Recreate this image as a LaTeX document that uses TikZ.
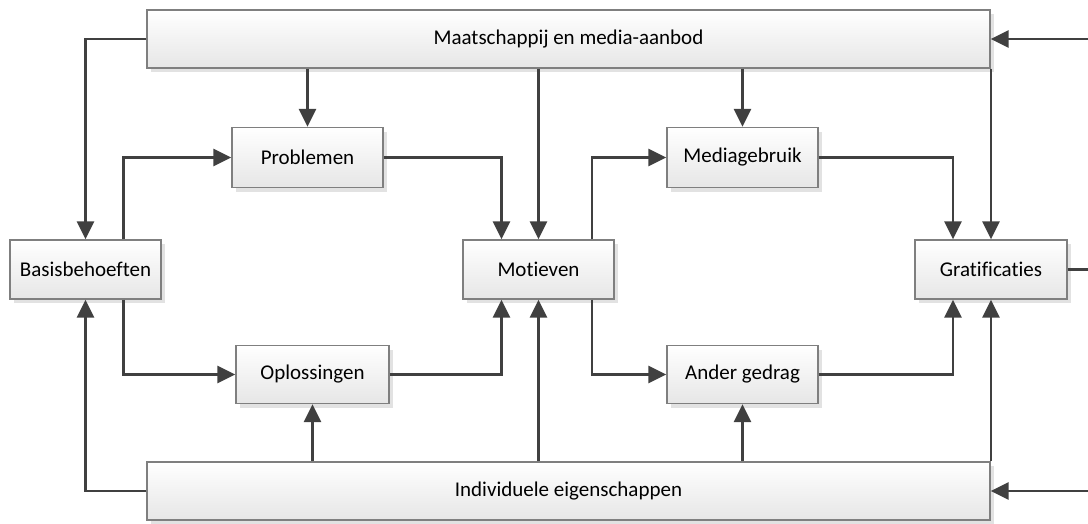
\documentclass[tikz,border=0pt]{standalone}
\usepackage{fontspec}
\setmainfont{Carlito}[Ligatures={NoCommon}]
\usetikzlibrary{arrows.meta,shadows,calc}
\definecolor{linec}{HTML}{404040}
\definecolor{boxborder}{HTML}{7F7F7F}
\definecolor{boxbot}{HTML}{E6E6E6}
\definecolor{shadowc}{HTML}{E2E2E2}
\tikzset{
  blok/.style={draw=boxborder, line width=1.3pt, top color=white, bottom color=boxbot,
    drop shadow={shadow xshift=4pt, shadow yshift=-4pt, fill=shadowc, opacity=1},
    font=\fontsize{21}{25}\selectfont, inner sep=0pt, align=center},
  pijl/.style={draw=linec, line width=2.6pt, -{Triangle[length=18pt,width=17pt]}},
  lijn/.style={draw=linec, line width=2.6pt}
}
\begin{document}
\begin{tikzpicture}[x=1pt,y=-1pt]
\useasboundingbox (0,0) rectangle (1088,523);
% nodes
\node[blok, minimum width=843pt, minimum height=58pt] (M) at (568.5,39) {Maatschappij en media-aanbod};
\node[blok, minimum width=843pt, minimum height=58pt] (I) at (568.5,491) {Individuele eigenschappen};
\node[blok, minimum width=151pt, minimum height=60pt] (P) at (307.5,157.5) {Problemen};
\node[blok, minimum width=153pt, minimum height=58pt] (O) at (312.5,374.5) {Oplossingen};
\node[blok, minimum width=151pt, minimum height=60pt] (MG) at (742.5,157.5) {Mediagebruik};
\node[blok, minimum width=151pt, minimum height=58pt] (AG) at (742.5,374.5) {Ander gedrag};
\node[blok, minimum width=151pt, minimum height=59pt] (B) at (85.5,269.5) {Basisbehoeften};
\node[blok, minimum width=151pt, minimum height=59pt] (Mo) at (538.5,269.5) {Motieven};
\node[blok, minimum width=152pt, minimum height=59pt] (G) at (991,269.5) {Gratificaties};
\coordinate (rM) at (1088,39);
\coordinate (rI) at (1088,491);
\coordinate (rG) at (1088,269.5);
% connectors
\draw[pijl] (M.west) -| (B.north);
\draw[pijl] (I.west) -| (B.south);
\draw[pijl] ([xshift=38pt]B.north) |- (P.west);
\draw[pijl] ([xshift=38pt]B.south) |- (O.west);
\draw[pijl] (P.north |- M.south) -- (P.north);
\draw[pijl] (Mo.north |- M.south) -- (Mo.north);
\draw[pijl] (MG.north |- M.south) -- (MG.north);
\draw[pijl] (G.north |- M.south) -- (G.north);
\draw[pijl] (O.south |- I.north) -- (O.south);
\draw[pijl] (Mo.south |- I.north) -- (Mo.south);
\draw[pijl] (AG.south |- I.north) -- (AG.south);
\draw[pijl] (G.south |- I.north) -- (G.south);
\draw[pijl] (P.east) -| ([xshift=-37pt]Mo.north);
\draw[pijl] (O.east) -| ([xshift=-37pt]Mo.south);
\draw[pijl] ([xshift=53.5pt]Mo.north) |- (MG.west);
\draw[pijl] ([xshift=53.5pt]Mo.south) |- (AG.west);
\draw[pijl] (MG.east) -| ([xshift=-38pt]G.north);
\draw[pijl] (AG.east) -| ([xshift=-38pt]G.south);
\draw[lijn] (G.east) -- (rG);
\draw[pijl] (rM) -- (M.east);
\draw[pijl] (rI) -- (I.east);
\end{tikzpicture}
\end{document}
